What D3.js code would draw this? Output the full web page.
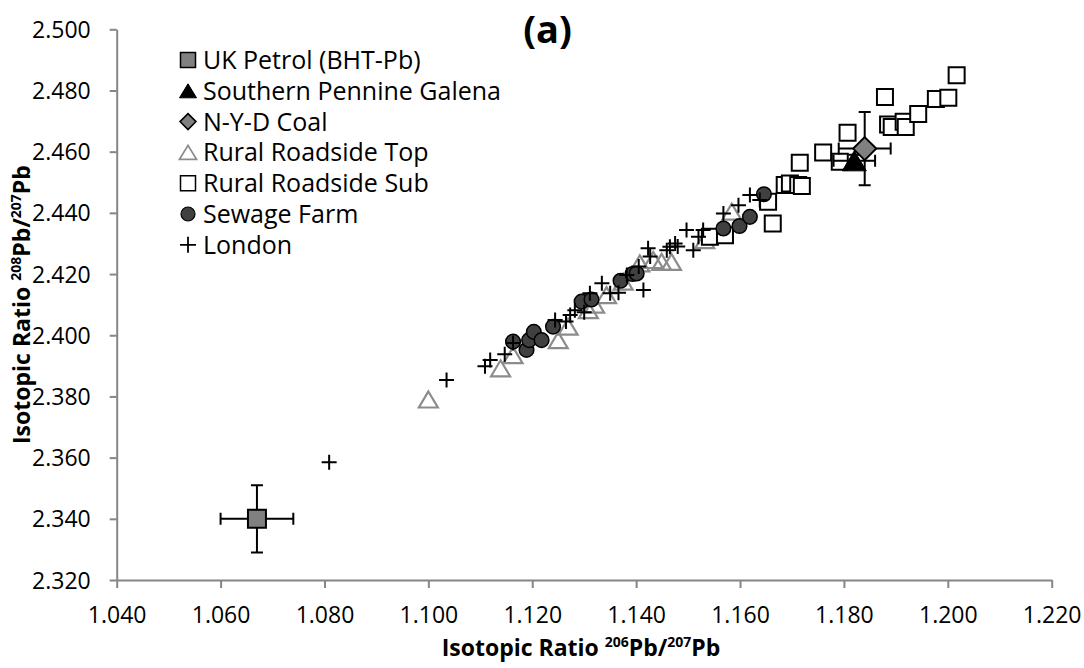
<!DOCTYPE html>
<html><head><meta charset="utf-8">
<script src="https://cdn.jsdelivr.net/npm/d3@7"></script>
<style>body{margin:0;background:#fff}svg{display:block}</style>
</head><body>
<svg id="chart" width="1084" height="668"></svg>
<script>
// ---- data ----
const xTicks = [1.040,1.060,1.080,1.100,1.120,1.140,1.160,1.180,1.200,1.220];
const yTicks = [2.320,2.340,2.360,2.380,2.400,2.420,2.440,2.460,2.480,2.500];
const seriesNames = ["UK Petrol (BHT-Pb)","Southern Pennine Galena","N-Y-D Coal","Rural Roadside Top","Rural Roadside Sub","Sewage Farm","London"];

const ukPetrol = [[1.067,2.340]];
const ukPetrolErr = [[0.007,0.011]];
const galena = [[1.182,2.457]];
const galenaErr = [[0.004,0.002]];
const coal = [[1.184,2.461]];
const coalErr = [[0.005,0.012]];

const ruralTop = [[1.100,2.379],[1.1139,2.3892],[1.1163,2.3935],[1.125,2.3984],[1.1269,2.4028],[1.1308,2.4082],
  [1.1343,2.4131],[1.1407,2.4235],[1.1433,2.4246],[1.1449,2.4240],[1.1468,2.4240],[1.1532,2.4311],[1.1584,2.4404],
  [1.1320,2.4100],[1.1375,2.4175]];
const ruralSub = [[1.1542,2.4322],[1.1571,2.4327],[1.1654,2.4436],[1.1663,2.4365],[1.1686,2.4491],[1.1696,2.4496],
  [1.1712,2.4491],[1.1719,2.4488],[1.1715,2.4564],[1.1760,2.4597],[1.1792,2.4567],[1.1807,2.4662],[1.1879,2.4779],
  [1.1885,2.4689],[1.1892,2.4681],[1.1915,2.4698],[1.1919,2.4681],[1.1943,2.4723],[1.1977,2.4772],[1.2001,2.4776],
  [1.2017,2.4850]];
const sewage = [[1.1163,2.3979],[1.1189,2.3952],[1.1194,2.3984],[1.1203,2.4011],[1.1218,2.3984],[1.1240,2.4028],
  [1.1295,2.4110],[1.1314,2.4117],[1.1370,2.4178],[1.1393,2.4200],[1.1401,2.4202],[1.1568,2.4349],[1.1599,2.4357],
  [1.1619,2.4387],[1.1646,2.4461]];
const london = [[1.0809,2.3585],[1.1035,2.3854],[1.1109,2.3899],[1.1119,2.3919],[1.1147,2.3938],[1.1163,2.3975],
  [1.1244,2.4050],[1.1265,2.4045],[1.1273,2.4066],[1.1282,2.4082],[1.1300,2.4075],[1.1311,2.4137],[1.1334,2.4170],
  [1.1350,2.4137],[1.1366,2.4139],[1.1382,2.4197],[1.1405,2.4225],[1.1414,2.4148],[1.1423,2.4284],[1.1427,2.4257],
  [1.1459,2.4278],[1.1465,2.4289],[1.1475,2.4300],[1.1480,2.4290],[1.1497,2.4344],[1.1510,2.4278],[1.1520,2.4322],
  [1.1529,2.4344],[1.1568,2.4398],[1.1597,2.4425],[1.1619,2.4458],[1.1638,2.4442]];

// ---- layout ----
const svg = d3.select("#chart");
const x = d3.scaleLinear().domain([1.04,1.22]).range([116.7,1051.7]);
const y = d3.scaleLinear().domain([2.32,2.50]).range([580,29.3]);
const FONT = "'Open Sans', Lato, sans-serif";
const AXIS = "#868686";

const gx = svg.append("g").attr("transform",`translate(0,${y(2.32)})`)
  .call(d3.axisBottom(x).tickValues(xTicks).tickFormat(d3.format(".3f")).tickSize(8).tickSizeOuter(0));
const gy = svg.append("g").attr("transform",`translate(${x(1.04)},0)`)
  .call(d3.axisLeft(y).tickValues(yTicks).tickFormat(d3.format(".3f")).tickSize(7).tickSizeOuter(0).tickPadding(19));
[gx,gy].forEach(g=>{
  g.select(".domain").attr("stroke",AXIS).attr("stroke-width",2);
  g.selectAll(".tick line").attr("stroke",AXIS).attr("stroke-width",2);
  g.selectAll(".tick text").attr("fill","#000").style("font-family",FONT).style("font-size","23px");
});
gx.selectAll(".tick text").attr("y",35).attr("dy","0.35em");
gy.selectAll(".tick text").attr("dy","0.35em");

// axis titles
function title(sel, a){
  sel.style("font-family",FONT).style("font-size","23px").style("font-weight","bold").attr("text-anchor","middle");
  sel.append("tspan").text("Isotopic Ratio ");
  sel.append("tspan").text(a).style("font-size","14px").attr("dy","-9");
  sel.append("tspan").text("Pb/").attr("dy","9");
  sel.append("tspan").text("207").style("font-size","14px").attr("dy","-9");
  sel.append("tspan").text("Pb").attr("dy","9");
}
title(svg.append("text").attr("x",581).attr("y",656), "206");
title(svg.append("text").attr("transform",`translate(30,${(y(2.32)+y(2.5))/2}) rotate(-90)`), "208");

svg.append("text").attr("x",547.5).attr("y",43).attr("text-anchor","middle")
  .style("font-family",FONT).style("font-size","38px").style("font-weight","bold").text("(a)");

// ---- marker shapes ----
const sq = s => `M${-s/2},${-s/2}H${s/2}V${s/2}H${-s/2}Z`;
const tri = (w,h) => `M0,${-h/2}L${w/2},${h/2}L${-w/2},${h/2}Z`;
const dia = s => `M0,${-s/2}L${s/2},0L0,${s/2}L${-s/2},0Z`;
const plus = s => `M${-s/2},0H${s/2}M0,${-s/2}V${s/2}`;
const circ = r => `M${r},0A${r},${r} 0 1,1 ${-r},0A${r},${r} 0 1,1 ${r},0Z`;

const styles = {
  petrol:{d:sq(18), fill:"#808080", stroke:"#000", sw:2},
  galena:{d:tri(24,20), fill:"#000", stroke:"#000", sw:1},
  coal:{d:dia(23), fill:"#808080", stroke:"#000", sw:2},
  top:{d:tri(19,16), fill:"none", stroke:"#8c8c8c", sw:2.2},
  sub:{d:sq(16), fill:"#fff", stroke:"#000", sw:2},
  sew:{d:circ(7.3), fill:"#404040", stroke:"#000", sw:1.5},
  lon:{d:plus(15), fill:"none", stroke:"#000", sw:2}
};

function drawSeries(data, st){
  svg.append("g").selectAll("path").data(data).join("path")
    .attr("transform",d=>`translate(${x(d[0])},${y(d[1])})`)
    .attr("d",st.d).attr("fill",st.fill).attr("stroke",st.stroke).attr("stroke-width",st.sw);
}
function drawErr(data, errs){
  const g = svg.append("g").attr("stroke","#000").attr("stroke-width",2).attr("fill","none");
  data.forEach((d,i)=>{
    const [ex,ey] = errs[i];
    const cx=x(d[0]), cy=y(d[1]), x0=x(d[0]-ex), x1=x(d[0]+ex), y0=y(d[1]-ey), y1=y(d[1]+ey), c=6;
    g.append("path").attr("d",`M${x0},${cy}H${x1}M${x0},${cy-c}V${cy+c}M${x1},${cy-c}V${cy+c}`+
      `M${cx},${y0}V${y1}M${cx-c},${y0}H${cx+c}M${cx-c},${y1}H${cx+c}`);
  });
}

drawSeries(ruralTop, styles.top);
drawSeries(ruralSub, styles.sub);
drawSeries(sewage, styles.sew);
drawSeries(london, styles.lon);
drawErr(ukPetrol, ukPetrolErr); drawSeries(ukPetrol, styles.petrol);
drawErr(galena, galenaErr); drawSeries(galena, styles.galena);
drawErr(coal, coalErr); drawSeries(coal, styles.coal);

// ---- legend ----
const legendStyles = [
  {d:sq(15), fill:"#808080", stroke:"#000", sw:1.5},
  {d:tri(17,14), fill:"#000", stroke:"#000", sw:1},
  {d:dia(16), fill:"#808080", stroke:"#000", sw:1.5},
  {d:tri(17,14), fill:"none", stroke:"#8c8c8c", sw:1.8},
  {d:sq(15), fill:"#fff", stroke:"#000", sw:1.5},
  {d:circ(7), fill:"#404040", stroke:"#000", sw:1.2},
  {d:plus(16), fill:"none", stroke:"#000", sw:1.8}
];
const lg = svg.append("g");
seriesNames.forEach((n,i)=>{
  const cy = 60 + i*30.8;
  const st = legendStyles[i];
  lg.append("path").attr("transform",`translate(188,${cy})`).attr("d",st.d)
    .attr("fill",st.fill).attr("stroke",st.stroke).attr("stroke-width",st.sw);
  lg.append("text").attr("x",203).attr("y",cy).attr("dy","0.36em")
    .style("font-family",FONT).style("font-size","25px").text(n);
});
</script>
</body></html>
